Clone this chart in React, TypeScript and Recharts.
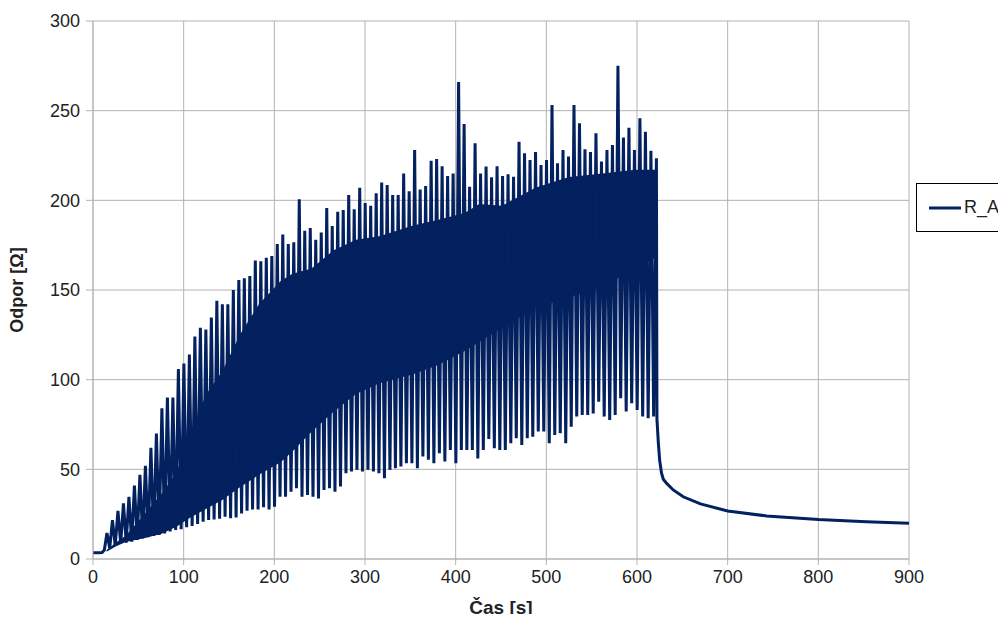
import React from "react";
import {
  Area,
  CartesianGrid,
  ComposedChart,
  Legend,
  Line,
  XAxis,
  YAxis,
} from "recharts";

// time grid of the measured cycles (s)
const CYCLE_START = 15.4;
const CYCLE_PERIOD = 6.06;

// top of each cycle (Ω)
const peaks = [
  14.5, 21.7, 26.8, 31, 34.6, 41, 47, 52, 62, 70,
  84, 90, 90, 106, 109, 114, 124, 129, 128, 134.6,
  144, 142, 142, 150, 155.6, 156.5, 157.8, 166.4, 166, 168,
  169, 175.7, 181, 175.7, 176.6, 200.6, 183, 184.6, 178, 182,
  195.7, 185.7, 193.6, 194.6, 203, 195, 207, 198.5, 197, 204,
  210, 208.6, 203, 203, 215, 205, 228, 206, 208, 222,
  223, 219, 213.6, 215, 266, 242.6, 207.6, 231.8, 215, 218.8,
  212.9, 219, 213.6, 214.6, 213.2, 232.7, 226.3, 222.5, 227, 219.7,
  222.5, 253.2, 220.7, 228, 224.4, 253.2, 243, 228.5, 227, 237.4,
  221.6, 228, 230.9, 275, 235, 240.5, 228, 245.8, 238.3, 227.7,
  223.5,
];

// bottom of each cycle (Ω)
const troughs = [
  6.0, 7.3, 8.7, 9.1, 9.7, 10.6, 11.5, 12.1, 12.8, 13.4,
  14.3, 15.3, 16.2, 16.6, 17.7, 18.4, 19.5, 20.8, 21.8, 22.1,
  22.5, 23.6, 22.7, 23.2, 25.4, 26.9, 27.6, 27.6, 28.8, 27.6,
  29.1, 34.7, 34.7, 37.5, 39.4, 34.7, 35.7, 34.7, 33.8, 38.5,
  39.4, 37.5, 40.4, 47.8, 48.8, 49.7, 48.8, 49.7, 48.8, 47.8,
  45.0, 49.7, 50.6, 51.6, 53.4, 53.4, 50.6, 57.1, 55.3, 53.4,
  59.0, 54.4, 60.8, 53.4, 60.8, 60.8, 60.8, 56.1, 60.8, 66.9,
  61.7, 60.8, 60.8, 64.5, 67.3, 63.6, 67.3, 68.2, 71.1, 71.1,
  64.5, 69.2, 70.1, 64.5, 73.8, 79.4, 80.3, 80.3, 81.2, 87.7,
  79.4, 77.5, 80.3, 89.6, 82.2, 86.8, 83.1, 79.4, 78.5, 79.4,
];

// before the cycles start
const headTime = [0, 6, 10, 12.5];
const headValue = [3.5, 3.5, 3.6, 5];

// relaxation after the last cycle
const tailTime = [622, 623.5, 625, 627, 629, 633, 640, 651, 670, 700, 743, 800, 853, 900];
const tailValue = [78, 65, 55, 48, 44.5, 42, 38.5, 34.7, 30.7, 26.8, 24, 22, 20.8, 19.9];

// solid core of the oscillation (Ω)
const bandTime = [15, 25, 36, 55, 75, 92, 107, 125, 143, 162, 183, 207, 220, 241, 265, 290, 316, 353, 380, 410, 426, 451, 488, 525, 562, 598, 620];
const bandLow = [4, 7, 9.5, 11.5, 14, 18, 23, 28, 33, 40, 47, 54, 60, 71, 82, 92, 98, 103, 108, 116, 121, 129, 140, 146, 152, 162, 168];
const bandHigh = [5, 9, 13, 24, 36, 48, 70, 92, 105, 125, 142, 155, 159, 162, 172, 178, 180, 186, 189, 193, 198, 197, 207, 213, 215, 217, 217];

const xTicks = [0, 100, 200, 300, 400, 500, 600, 700, 800, 900];
const yTicks = [0, 50, 100, 150, 200, 250, 300];

const NAVY = "#03205f";
const GRID = "#b3b3b3";
const FONT = "'Liberation Sans', Arial, sans-serif";

type Row = { t: number; r?: number; band?: [number, number] };

function buildRows(): Row[] {
  const rows: Row[] = [];
  headTime.forEach((t, i) => rows.push({ t, r: headValue[i] }));
  peaks.forEach((p, i) => {
    const t = CYCLE_START + i * CYCLE_PERIOD;
    rows.push({ t, r: p });
    if (i < troughs.length) rows.push({ t: t + CYCLE_PERIOD / 2, r: troughs[i] });
  });
  tailTime.forEach((t, i) => rows.push({ t, r: tailValue[i] }));
  bandTime.forEach((t, i) => rows.push({ t, band: [bandLow[i], bandHigh[i]] }));
  return rows.sort((a, b) => a.t - b.t);
}

const rows = buildRows();

// legend box runs off the right edge of the picture, so no right border
function LegendBox(props: any) {
  const items = (props.payload || []).filter((p: any) => p.type !== "none");
  return (
    <div
      style={{
        borderTop: "1px solid #000",
        borderBottom: "1px solid #000",
        borderLeft: "1px solid #000",
        width: 120,
        height: 49,
        boxSizing: "border-box",
        display: "flex",
        alignItems: "center",
        paddingLeft: 11,
        background: "#fff",
        fontFamily: FONT,
        fontSize: 18,
        color: "#222",
      }}
    >
      {items.map((p: any) => (
        <span key={p.value} style={{ display: "flex", alignItems: "center" }}>
          <svg width={34} height={6} style={{ marginRight: 2 }}>
            <line x1={1} y1={3} x2={33} y2={3} stroke={p.color} strokeWidth={3} />
          </svg>
          {p.value}
        </span>
      ))}
    </div>
  );
}

export default function App() {
  return (
    <div style={{ margin: -8, background: "#fff", width: 1006, height: 622, overflow: "hidden" }}>
      <ComposedChart
        width={1006}
        height={622}
        data={rows}
        margin={{ top: 21, right: 97, left: 0, bottom: 0 }}
      >
        <CartesianGrid stroke={GRID} strokeWidth={1} />
        <XAxis
          dataKey="t"
          type="number"
          domain={[0, 900]}
          ticks={xTicks}
          allowDataOverflow
          height={63}
          tick={{ fill: "#222", fontSize: 18, fontFamily: FONT }}
          tickSize={6}
          tickMargin={5}
          tickLine={{ stroke: GRID }}
          axisLine={{ stroke: GRID }}
          label={{
            value: "Čas [s]",
            position: "insideBottom",
            offset: 8,
            style: { fontFamily: FONT, fontSize: 19, fontWeight: "bold", fill: "#222" },
          }}
        />
        <YAxis
          type="number"
          domain={[0, 300]}
          ticks={yTicks}
          width={93}
          tick={{ fill: "#222", fontSize: 18, fontFamily: FONT }}
          tickSize={7}
          tickMargin={6}
          tickLine={{ stroke: GRID }}
          axisLine={{ stroke: GRID }}
          label={{
            value: "Odpor [Ω]",
            angle: -90,
            position: "insideLeft",
            offset: 17,
            style: {
              fontFamily: FONT,
              fontSize: 18,
              fontWeight: "bold",
              fill: "#222",
              textAnchor: "middle",
            },
          }}
        />
        <Area
          dataKey="band"
          type="linear"
          stroke="none"
          fill={NAVY}
          fillOpacity={1}
          connectNulls
          legendType="none"
          isAnimationActive={false}
        />
        <Line
          dataKey="r"
          name="R_A"
          type="linear"
          stroke={NAVY}
          strokeWidth={3}
          dot={false}
          connectNulls
          isAnimationActive={false}
        />
        <Legend
          layout="vertical"
          align="center"
          verticalAlign="middle"
          content={LegendBox}
          wrapperStyle={{ left: 916, top: 183, width: 120 }}
        />
      </ComposedChart>
    </div>
  );
}
